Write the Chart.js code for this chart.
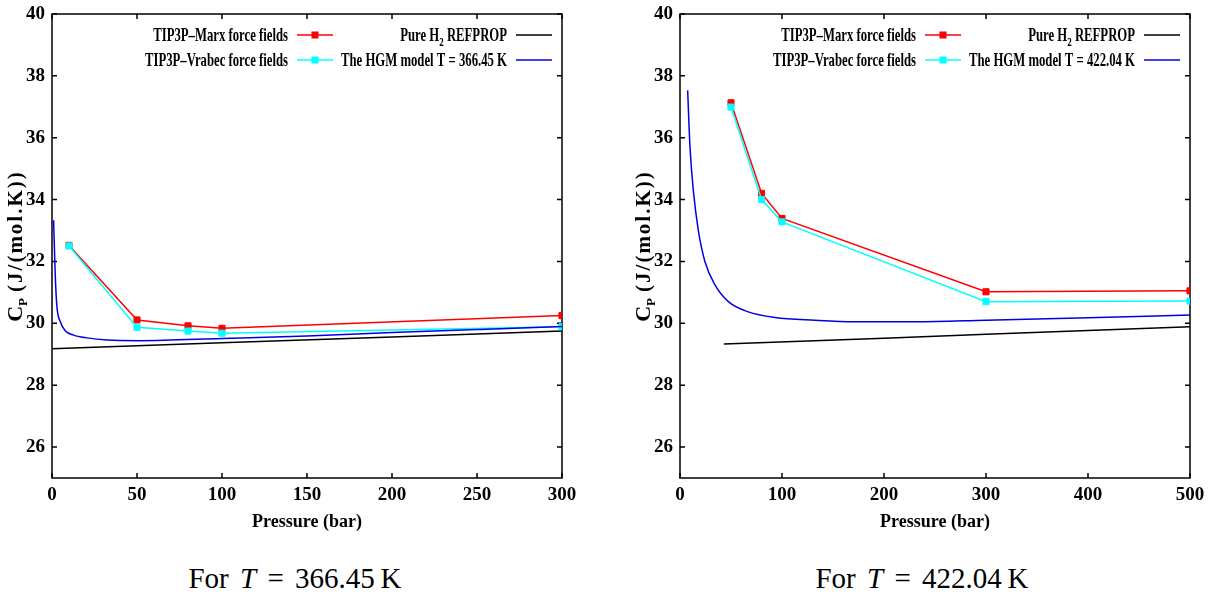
<!DOCTYPE html>
<html>
<head>
<meta charset="utf-8">
<script src="https://cdn.jsdelivr.net/npm/chart.js@4.4.1/dist/chart.umd.min.js"></script>
<style>
  html, body { margin: 0; padding: 0; background: #fff; }
  body { width: 1211px; height: 595px; position: relative; overflow: hidden; }
  canvas { position: absolute; top: 0; }
  #left { left: 0; }
  #right { left: 605px; }
  .caption { position: absolute; top: 561px; width: 400px; text-align: center;
    font-family: "Liberation Serif", serif; font-size: 29px; line-height: 34px;
    word-spacing: 4px; color: #000; }
</style>
</head>
<body>
<canvas id="left" width="605" height="540"></canvas>
<canvas id="right" width="606" height="540"></canvas>
<div class="caption" style="left:95px">For <i>T</i> = 366.45&#8201;K</div>
<div class="caption" style="left:722px">For <i>T</i> = 422.04&#8201;K</div>
<script>
// ---- T = 366.45 K ----
var mdPressure1 = [10, 50, 80, 100, 300];
var marx1 = [32.52, 30.11, 29.92, 29.84, 30.25];
var vrabec1 = [32.50, 29.87, 29.75, 29.68, 29.89];
var hgmPressure1 = [0.94, 1.94, 2.9, 4.9, 7.8, 12.7, 20.5, 32.3, 51.8, 100, 150, 200, 250, 300];
var hgm1 = [33.33, 31.51, 30.54, 30.05, 29.76, 29.62, 29.53, 29.46, 29.44, 29.51, 29.59, 29.70, 29.80, 29.90];
var refPressure1 = [0, 100, 200, 300];
var refprop1 = [29.18, 29.37, 29.56, 29.75];
var xTicks1 = [0, 50, 100, 150, 200, 250, 300];

// ---- T = 422.04 K ----
var mdPressure2 = [50, 80, 100, 300, 500];
var marx2 = [37.13, 34.20, 33.39, 31.02, 31.05];
var vrabec2 = [36.99, 34.00, 33.28, 30.70, 30.72];
var hgmPressure2 = [7.5, 9.8, 13.1, 18, 24.5, 34.3, 47.4, 67, 93, 132, 171, 231, 300, 400, 500];
var hgm2 = [37.53, 35.70, 34.29, 33.00, 31.99, 31.24, 30.70, 30.37, 30.19, 30.10, 30.05, 30.05, 30.10, 30.18, 30.27];
var refPressure2 = [43, 200, 300, 500];
var refprop2 = [29.33, 29.52, 29.65, 29.89];
var xTicks2 = [0, 100, 200, 300, 400, 500];

var yTicks = [26, 28, 30, 32, 34, 36, 38, 40];
var labelMarx = 'TIP3P\u2013Marx force fields';
var labelVrabec = 'TIP3P\u2013Vrabec force fields';
var labelRef = 'Pure H_2 REFPROP';
var yTitle = '(J/(mol.K))';
var xTitle = 'Pressure (bar)';

var serif = '"Liberation Serif", "Times New Roman", serif';

function points(xs, ys) {
  var out = [];
  for (var i in xs) {
    out.push({x: xs[i], y: ys[i]});
  }
  return out;
}

// text with _x subscripts, right aligned and squeezed horizontally
function drawRich(ctx, text, xRight, y, size, sx) {
  var parts = text.split(/_(\w)/);
  var widths = [];
  var total = 0;
  for (var i = 0; i < parts.length; i++) {
    ctx.font = 'bold ' + (i % 2 ? size * 0.7 : size) + 'px ' + serif;
    widths.push(ctx.measureText(parts[i]).width);
    total += widths[i];
  }
  ctx.save();
  ctx.translate(xRight, y);
  ctx.scale(sx, 1);
  var x = -total;
  for (var j = 0; j < parts.length; j++) {
    ctx.font = 'bold ' + (j % 2 ? size * 0.7 : size) + 'px ' + serif;
    ctx.fillText(parts[j], x, j % 2 ? size * 0.25 : 0);
    x += widths[j];
  }
  ctx.restore();
}

var frame = {
  id: 'frame',
  beforeDatasetsDraw: function(chart) {
    var ctx = chart.ctx, a = chart.chartArea;
    var xs = chart.scales.x, ys = chart.scales.y;
    ctx.save();
    ctx.strokeStyle = '#000';
    ctx.lineWidth = 1.5;
    ctx.strokeRect(a.left, a.top, a.right - a.left, a.bottom - a.top);
    ctx.beginPath();
    xs.ticks.forEach(function(t) {
      var px = xs.getPixelForValue(t.value);
      ctx.moveTo(px, a.bottom); ctx.lineTo(px, a.bottom - 5);
      ctx.moveTo(px, a.top); ctx.lineTo(px, a.top + 5);
    });
    ys.ticks.forEach(function(t) {
      var py = ys.getPixelForValue(t.value);
      ctx.moveTo(a.left, py); ctx.lineTo(a.left + 5, py);
      ctx.moveTo(a.right, py); ctx.lineTo(a.right - 5, py);
    });
    ctx.stroke();

    // y axis title: C_P (J/(mol.K))
    ctx.fillStyle = '#000';
    ctx.translate(a.left - 30.5, (a.top + a.bottom) / 2);
    ctx.rotate(-Math.PI / 2);
    ctx.textBaseline = 'alphabetic';
    ctx.textAlign = 'left';
    ctx.font = 'bold 22px ' + serif;
    var wC = ctx.measureText('C').width;
    ctx.font = 'bold 13px ' + serif;
    var wP = ctx.measureText('P').width;
    ctx.font = 'bold 21px ' + serif;
    ctx.letterSpacing = '2px';
    var wT = ctx.measureText(yTitle).width;
    ctx.letterSpacing = '0px';
    var x = -(wC + wP + 6 + wT) / 2;
    ctx.font = 'bold 22px ' + serif;
    ctx.fillText('C', x, 0);
    x += wC;
    ctx.font = 'bold 13px ' + serif;
    ctx.fillText('P', x, 5);
    x += wP + 6;
    ctx.font = 'bold 21px ' + serif;
    ctx.letterSpacing = '2px';
    ctx.fillText(yTitle, x, 0);
    ctx.restore();
  },
  afterDatasetsDraw: function(chart) {
    var ctx = chart.ctx, a = chart.chartArea;
    var ds = chart.data.datasets;
    // legend: two columns, text right aligned, sample to the right
    var cols = [a.right - 274, a.right - 55];
    var rows = [a.top + 21, a.top + 46];
    var place = [[0, 0], [0, 1], [1, 0], [1, 1]];
    ctx.save();
    ctx.fillStyle = '#000';
    ctx.textBaseline = 'alphabetic';
    for (var i = 0; i < ds.length; i++) {
      var tx = cols[place[i][0]], ty = rows[place[i][1]];
      drawRich(ctx, ds[i].label, tx, ty + 6.3, 19, 0.67);
      ctx.strokeStyle = ds[i].borderColor;
      ctx.lineWidth = 1.5;
      ctx.beginPath();
      ctx.moveTo(tx + 9, ty);
      ctx.lineTo(tx + 45, ty);
      ctx.stroke();
      if (ds[i].pointRadius > 0) {
        ctx.fillStyle = ds[i].borderColor;
        ctx.fillRect(tx + 27 - 3.5, ty - 3.5, 7, 7);
        ctx.fillStyle = '#000';
      }
    }
    ctx.restore();
  }
};

function makeChart(id, d) {
  var ctx = document.getElementById(id).getContext('2d');
  return new Chart(ctx, {
    type: 'scatter',
    data: {
      datasets: [{
        label: labelMarx,
        data: points(d.mdP, d.marx),
        showLine: true,
        borderColor: 'rgb(255, 0, 0)',
        backgroundColor: 'rgb(255, 0, 0)',
        borderWidth: 1.5,
        pointStyle: 'rect',
        pointRadius: 4.3,
        pointBorderWidth: 1,
        order: 2
      }, {
        label: labelVrabec,
        data: points(d.mdP, d.vrabec),
        showLine: true,
        borderColor: 'rgb(0, 255, 255)',
        backgroundColor: 'rgb(0, 255, 255)',
        borderWidth: 1.5,
        pointStyle: 'rect',
        pointRadius: 4.3,
        pointBorderWidth: 1,
        order: 1
      }, {
        label: labelRef,
        data: points(d.refP, d.ref),
        showLine: true,
        borderColor: 'rgb(0, 0, 0)',
        backgroundColor: 'rgb(0, 0, 0)',
        borderWidth: 1.5,
        pointRadius: 0,
        order: 3
      }, {
        label: d.hgmLabel,
        data: points(d.hgmP, d.hgm),
        showLine: true,
        borderColor: 'rgb(0, 0, 230)',
        backgroundColor: 'rgb(0, 0, 230)',
        borderWidth: 1.5,
        pointRadius: 0,
        cubicInterpolationMode: 'monotone',
        order: 0
      }]
    },
    options: {
      responsive: false,
      animation: false,
      events: [],
      layout: { padding: { left: 0, top: 14, right: d.padRight, bottom: 0 } },
      plugins: { legend: { display: false }, tooltip: { enabled: false } },
      scales: {
        x: {
          type: 'linear',
          min: 0,
          max: d.xMax,
          afterBuildTicks: function(s) { s.ticks = d.xTicks.map(function(v) { return {value: v}; }); },
          afterFit: function(s) { s.height = 62; s.paddingLeft = 0; s.paddingRight = 0; },
          grid: { display: false, drawTicks: false },
          border: { display: false },
          ticks: { color: '#000', padding: 6, autoSkip: false, maxRotation: 0,
            font: { family: serif, size: 19, weight: 'bold' } },
          title: { display: true, text: xTitle, color: '#000', padding: { top: 0, bottom: 7 },
            font: { family: serif, size: 18, weight: 'bold' } }
        },
        y: {
          min: 25,
          max: 40,
          afterBuildTicks: function(s) { s.ticks = yTicks.map(function(v) { return {value: v}; }); },
          afterFit: function(s) { s.width = d.yWidth; s.paddingTop = 0; s.paddingBottom = 0; },
          grid: { display: false, drawTicks: false },
          border: { display: false },
          ticks: { color: '#000', padding: 7,
            font: { family: serif, size: 19, weight: 'bold' } }
        }
      }
    },
    plugins: [frame]
  });
}

makeChart('left', {
  mdP: mdPressure1, marx: marx1, vrabec: vrabec1,
  refP: refPressure1, ref: refprop1,
  hgmP: hgmPressure1, hgm: hgm1, hgmLabel: 'The HGM model T = 366.45 K',
  xMax: 300, xTicks: xTicks1, padRight: 43, yWidth: 52
});

makeChart('right', {
  mdP: mdPressure2, marx: marx2, vrabec: vrabec2,
  refP: refPressure2, ref: refprop2,
  hgmP: hgmPressure2, hgm: hgm2, hgmLabel: 'The HGM model T = 422.04 K',
  xMax: 500, xTicks: xTicks2, padRight: 21, yWidth: 75
});
</script>
</body>
</html>
